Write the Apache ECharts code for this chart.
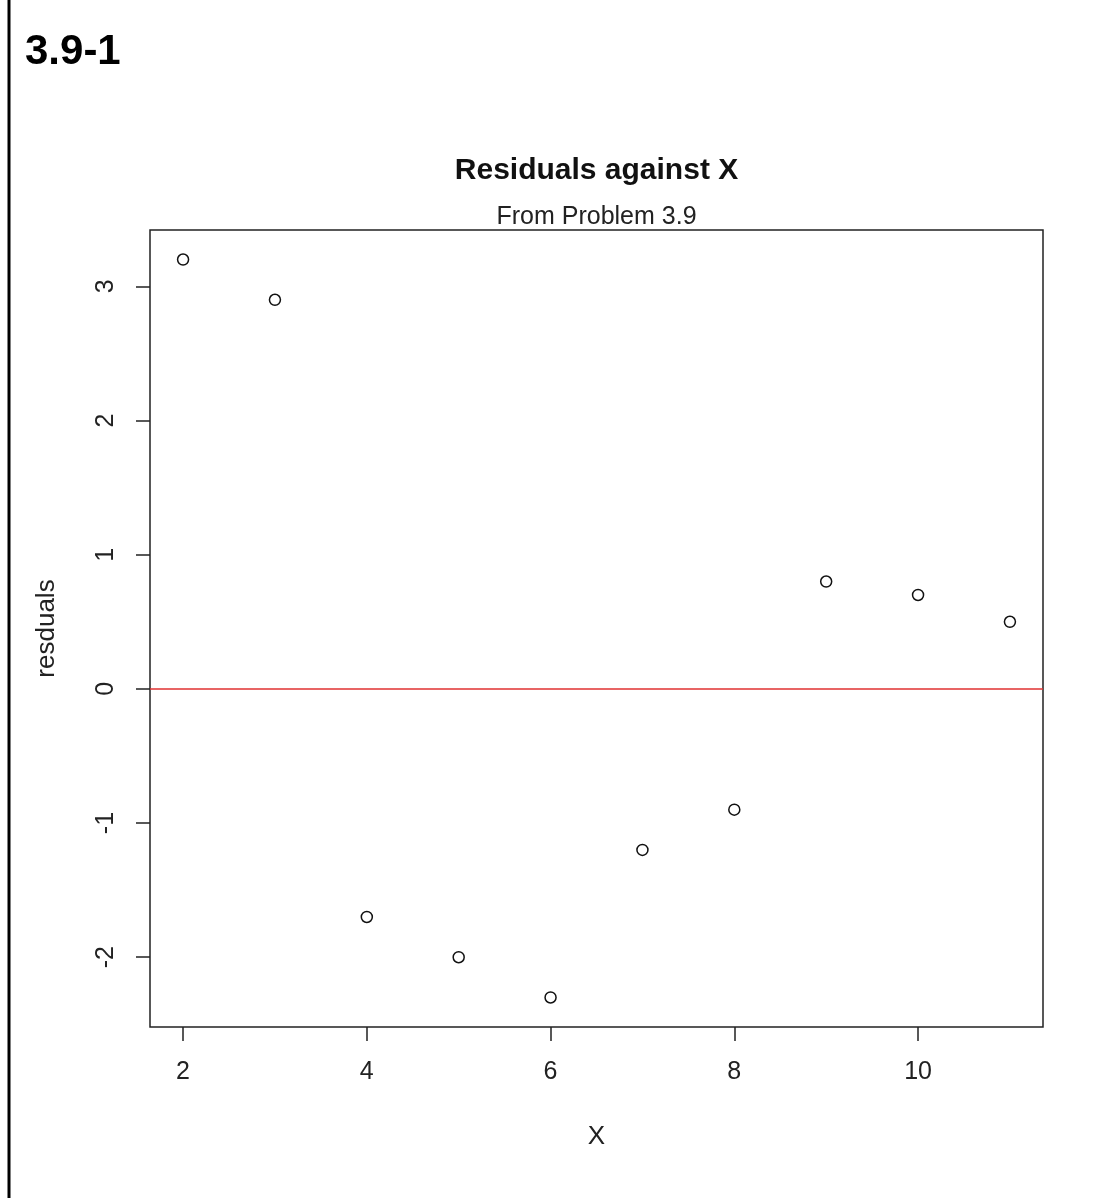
<!DOCTYPE html>
<html>
<head>
<meta charset="utf-8">
<script src="https://cdn.jsdelivr.net/npm/echarts@6/dist/echarts.min.js"></script>
<style>
  html, body { margin: 0; padding: 0; background: #fff; }
  #chart { width: 1119px; height: 1198px; }
</style>
</head>
<body>
<div id="chart"></div>
<script>
// Data
const xValues = [2, 3, 4, 5, 6, 7, 8, 9, 10, 11];
const residuals = [3.2, 2.9, -1.7, -2.0, -2.3, -1.2, -0.9, 0.8, 0.7, 0.5];
const xTicks = [2, 4, 6, 8, 10];
const yTicks = [-2, -1, 0, 1, 2, 3];
const refLine = 0;

const points = xValues.map((x, i) => [x, residuals[i]]);

const FONT = '"Liberation Sans", Arial, sans-serif';
const chart = echarts.init(document.getElementById('chart'), null, { renderer: 'canvas' });

chart.setOption({
  animation: false,
  backgroundColor: '#fff',
  textStyle: { fontFamily: FONT },
  graphic: [
    { type: 'rect', left: 7.5, top: 0, shape: { width: 3, height: 1198 }, style: { fill: '#000' }, silent: true }
  ],
  title: [
    { text: '3.9-1', left: 20, top: 26, textStyle: { fontFamily: FONT, fontSize: 42, fontWeight: 'bold', color: '#000' } },
    { text: 'Residuals against X', left: 596.5, textAlign: 'center', top: 156, padding: 0,
      textStyle: { fontFamily: FONT, fontSize: 30, fontWeight: 'bold', color: '#111' } },
    { text: 'From Problem 3.9', left: 596.5, textAlign: 'center', top: 205, padding: 0,
      textStyle: { fontFamily: FONT, fontSize: 25, fontWeight: 'normal', color: '#222' } }
  ],
  grid: {
    left: 150, top: 230, width: 893, height: 797,
    show: true, borderColor: '#222', borderWidth: 1.5, backgroundColor: 'transparent'
  },
  xAxis: {
    type: 'value', min: 1.64, max: 11.36,
    name: 'X', nameLocation: 'middle', nameGap: 97,
    nameTextStyle: { fontFamily: FONT, fontSize: 26, color: '#222' },
    axisLine: { show: false, onZero: false },
    splitLine: { show: false },
    axisTick: { show: true, customValues: xTicks, length: 14, lineStyle: { color: '#222', width: 1.5 } },
    axisLabel: { customValues: xTicks, fontFamily: FONT, fontSize: 25, color: '#222', margin: 33 }
  },
  yAxis: {
    type: 'value', min: -2.52, max: 3.42,
    name: 'resduals', nameLocation: 'middle', nameGap: 90,
    nameTextStyle: { fontFamily: FONT, fontSize: 26, color: '#222' },
    axisLine: { show: false, onZero: false },
    splitLine: { show: false },
    axisTick: { show: true, customValues: yTicks, length: 14, lineStyle: { color: '#222', width: 1.5 } },
    axisLabel: { customValues: yTicks, rotate: 90, fontFamily: FONT, fontSize: 25, color: '#222', margin: 31 }
  },
  series: [{
    type: 'scatter',
    data: points,
    symbol: 'circle',
    symbolSize: 11,
    itemStyle: { color: '#fff', borderColor: '#111', borderWidth: 1.5, opacity: 1 },
    emphasis: { disabled: true },
    silent: true,
    z: 3,
    markLine: {
      silent: true,
      symbol: ['none', 'none'],
      label: { show: false },
      lineStyle: { color: '#e03030', width: 1.5, type: 'solid' },
      data: [{ yAxis: refLine }],
      z: 2
    }
  }]
});
</script>
</body>
</html>
